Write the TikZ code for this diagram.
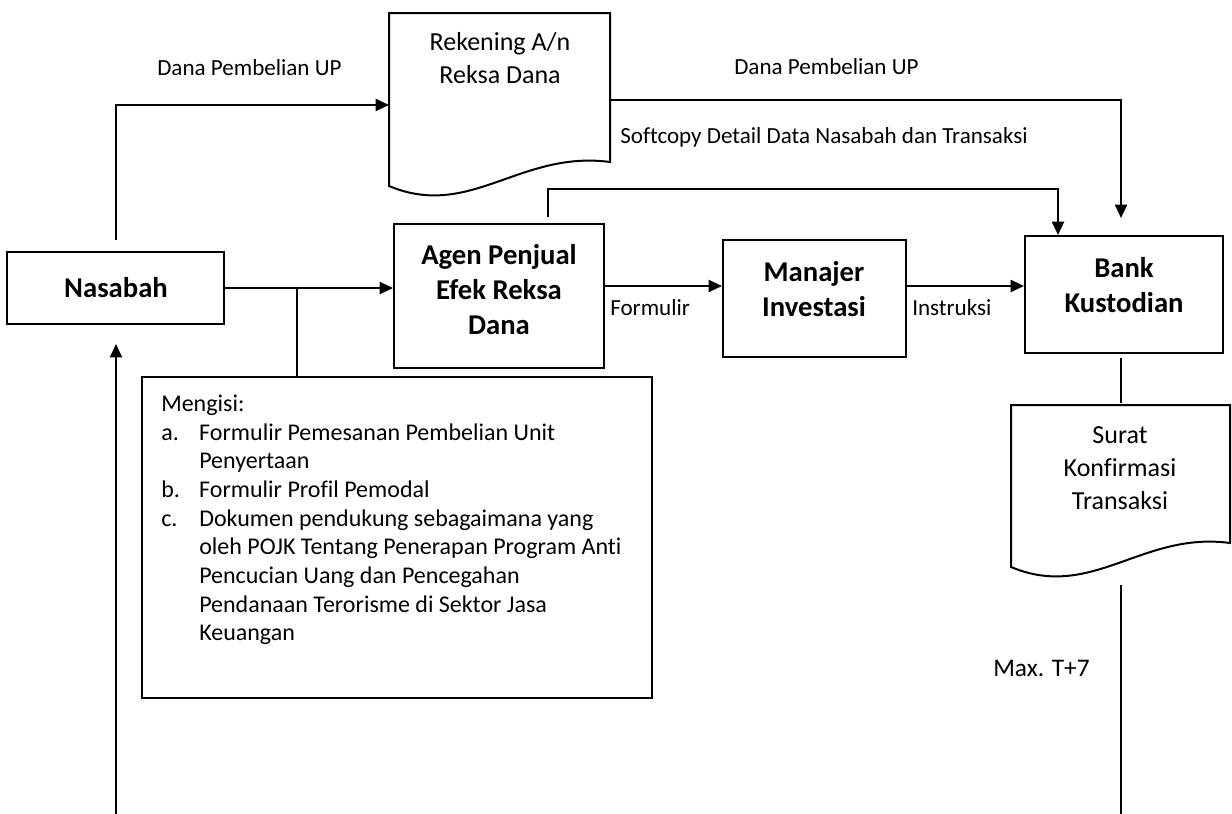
\documentclass[tikz,border=0pt]{standalone}
\usepackage{fontspec}
\setmainfont{Carlito}[Ligatures=NoCommon]
\usetikzlibrary{arrows.meta}
\begin{document}
\begin{tikzpicture}[x=0.75pt,y=-0.75pt,
  ln/.style={line width=1.5pt},
  arr/.style={line width=1.5pt,-{Triangle[length=10pt,width=9pt]}},
  pbox/.style={draw,line width=1.5pt,inner sep=0pt},
  btxt/.style={font=\fontsize{21.5pt}{26.25pt}\selectfont\bfseries,align=center,inner sep=0pt},
  dtxt/.style={font=\fontsize{19.5pt}{24.75pt}\selectfont,align=center,inner sep=0pt},
  lbl/.style={font=\fontsize{17.3pt}{20pt}\selectfont,anchor=west,inner sep=0pt}]

\useasboundingbox (0,0) rectangle (1232,814);
\fill[white] (0,0) rectangle (1232,814);

% boxes
\node[pbox,minimum width=162.75pt,minimum height=54pt] (nas) at (115.5,288) {};
\node[pbox,minimum width=157.5pt,minimum height=108pt] (agen) at (499,296) {};
\node[pbox,minimum width=137.25pt,minimum height=87.75pt] (man) at (814.5,298.5) {};
\node[pbox,minimum width=148.5pt,minimum height=87.75pt] (bank) at (1124,294.5) {};
\node[pbox,minimum width=382.5pt,minimum height=240.75pt] (men) at (397,537.5) {};

% documents
\draw[ln,line join=miter] (389,186) -- (389,13) -- (610,13) -- (610,162)
  .. controls (520,150) and (470,220) .. (389,186) -- cycle;
\draw[ln,line join=miter] (1011,567) -- (1011,405) -- (1230,405) -- (1230,543)
  .. controls (1142,531) and (1092,601) .. (1011,567) -- cycle;

% box texts
\node[btxt] (nast) at (116,288) {Nasabah};
\node[btxt] (agent) at (499,290) {Agen Penjual\\Efek Reksa\\Dana};
\node[btxt] (mant) at (814,289) {Manajer\\Investasi};
\node[btxt] (bankt) at (1124,285) {Bank\\Kustodian};
\node[dtxt] (rekt) at (500,58) {Rekening A/n\\Reksa Dana};
\node[dtxt] (surt) at (1120,468) {Surat\\Konfirmasi\\Transaksi};

\node[anchor=north west,inner sep=0pt,font=\fontsize{18pt}{21.5pt}\selectfont] (mtxt) at (161,391) {%
\begin{tabular}{@{}p{28.5pt}@{}l@{}}
\multicolumn{2}{@{}l@{}}{Mengisi:}\\
a. & Formulir Pemesanan Pembelian Unit\\
   & Penyertaan\\
b. & Formulir Profil Pemodal\\
c. & Dokumen pendukung sebagaimana yang\\
   & oleh POJK Tentang Penerapan Program Anti\\
   & Pencucian Uang dan Pencegahan\\
   & Pendanaan Terorisme di Sektor Jasa\\
   & Keuangan
\end{tabular}};

% labels
\node[lbl] (l1) at (157,68) {Dana Pembelian UP};
\node[lbl] (l2) at (734,67) {Dana Pembelian UP};
\node[lbl] (l3) at (620,137) {Softcopy Detail Data Nasabah dan Transaksi};
\node[lbl] (l4) at (610,308) {Formulir};
\node[lbl] (l5) at (912,308) {Instruksi};
\node[lbl,font=\fontsize{19pt}{22pt}\selectfont] (l6) at (993,668) {Max. T+7};

% coordinates
\coordinate (rekw) at (389,105);
\coordinate (reke) at (610,100);
\coordinate (nasup) at (116,240);
\coordinate (bktop) at (1121,218);
\coordinate (agup) at (548,217);
\coordinate (sc) at (1058,189);
\coordinate (br) at (297,288);
\coordinate (bkdn) at (1121,358);
\coordinate (surn) at (1121,403);
\coordinate (surs) at (1121,585);
\coordinate (bot) at (1121,814);
\coordinate (botl) at (116,814);
\coordinate (nasdn) at (116,344);

% connectors
\draw[arr] (nasup) |- (rekw);
\draw[arr] (reke) -| (bktop);
\draw[arr] (agup) |- (sc) -- (sc |- bank.north);
\draw[arr] (nas.east) -- (nas.east -| agen.west);
\draw[ln] (br) -- (br |- men.north);
\draw[arr] (agen.east |- 0,286) -- (man.west |- 0,286);
\draw[arr] (man.east |- 0,286) -- (bank.west |- 0,286);
\draw[ln] (bkdn) -- (surn);
\draw[ln] (surs) -- (bot);
\draw[arr] (botl) -- (nasdn);
\end{tikzpicture}
\end{document}
